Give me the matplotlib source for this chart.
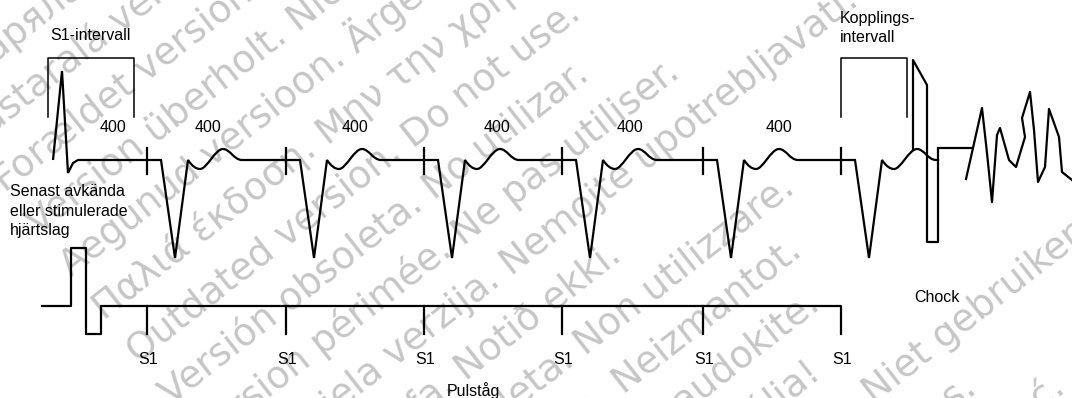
import matplotlib.pyplot as plt
from matplotlib.path import Path
from matplotlib.patches import PathPatch
import numpy as np

W, H = 1072, 398

# S1 pacing marks (px along the strip)
s1_x = [147, 286, 424, 562, 703, 841]
base_y = 160
tick_top, tick_bot = 148, 174

# last sensed beat at the start of the strip
sensed_x = [53, 62, 68, 73, 78]
sensed_y = [160, 71, 173, 163, 160]

# paced beat, offsets from the S1 mark
qrs_dx = [14, 28, 41]
qrs_y = [160, 258, 160]
# T wave as three cubic segments (ctrl1, ctrl2, end)
twave_dx = [45, 49, 53, 60, 68, 76, 83, 87, 95]
twave_y = [166, 169, 169, 169, 149, 149, 149, 160, 160]

# step after the last beat, shock pulse and VF
step_x = [938, 938, 973]
step_y = [160, 148, 148]
shock_x = [913, 913, 927, 927, 938, 938]
shock_y = [149, 60, 85, 242, 242, 160]
vf_x = [966, 982, 987, 992, 997, 1000, 1009, 1016, 1025, 1022, 1030, 1034,
        1038, 1045, 1049, 1059, 1062, 1072]
vf_y = [179, 108, 153, 202, 135, 128, 160, 167, 137, 118, 92, 130,
        182, 167, 109, 137, 172, 180]

# pulse train row
train_x = [42, 71, 71, 86, 86, 101, 101, 841, 841]
train_y = [306, 306, 248, 248, 334, 334, 306, 306, 334]
train_tick = (306, 334)

# brackets
s1_brk_x = [48, 48, 134, 134]
cpl_brk_x = [841, 841, 907, 907]
brk_y = [117, 58, 58, 117]

# labels
interval_lbl = "400"
interval_x = [113, 208, 355, 497, 630, 779]
interval_y = 128
sensed_lbl = ["Senast avkända", "eller stimulerade", "hjärtslag"]
sensed_lbl_y = [192, 211, 230]
cpl_lbl = ["Kopplings-", "intervall"]
cpl_lbl_y = [18, 37]

watermark = [
    "Остаряла версия. Да не се използва.",
    "Zastaralá verze. Nepoužívat.",
    "Forældet version. Må ikke anvendes.",
    "Version überholt. Nicht verwenden.",
    "Aegunud versioon. Ärge kasutage.",
    "Παλιά έκδοση. Μην την χρησιμοποιείτε.",
    "Outdated version. Do not use.",
    "Versión obsoleta. No utilizar.",
    "Version périmée. Ne pas utiliser.",
    "Zastarjela verzija. Nemojte upotrebljavati.",
    "Úrelt útgáfa. Notið ekki.",
    "Versione obsoleta. Non utilizzare.",
    "Novecojusi versija. Neizmantot.",
    "Pasenusi versija. Nenaudokite.",
    "Elavult verzió. Ne használja!",
    "Dit is een verouderde versie. Niet gebruiken.",
    "Utdatert versjon. Skal ikke brukes.",
    "Wersja przeterminowana. Nie używać.",
    "Versão obsoleta. Não utilize.",
]
wm_english = 6

fig = plt.figure(figsize=(W / 100, H / 100), dpi=100)
ax = fig.add_axes([0, 0, 1, 1])
ax.set_xlim(0, W)
ax.set_ylim(H, 0)
ax.axis('off')

# watermark, drawn first
ang = 38.0
d = np.array([np.cos(np.radians(ang)), -np.sin(np.radians(ang))])
n = np.array([np.sin(np.radians(ang)), np.cos(np.radians(ang))])
p0 = -115 * d + 371 * n
for i, line in enumerate(watermark):
    p = p0 + (i - wm_english) * 54 * n
    ax.text(p[0], p[1], line, rotation=ang, rotation_mode='anchor',
            ha='left', va='baseline', fontsize=27, color='#c6c6c6',
            family='DejaVu Sans', zorder=0, clip_on=True)

lw = 1.6
# ECG strip as one path
verts = [(x, y) for x, y in zip(sensed_x, sensed_y)]
codes = [Path.MOVETO] + [Path.LINETO] * (len(sensed_x) - 1)
for t in s1_x:
    for dx, y in zip(qrs_dx, qrs_y):
        verts.append((t + dx, y))
        codes.append(Path.LINETO)
    for dx, y in zip(twave_dx, twave_y):
        verts.append((t + dx, y))
        codes.append(Path.CURVE4)
for x, y in zip(step_x, step_y):
    verts.append((x, y))
    codes.append(Path.LINETO)
ax.add_patch(PathPatch(Path(verts, codes), fill=False, lw=lw, color='black',
                       joinstyle='miter', zorder=2))

ax.plot(shock_x, shock_y, color='black', lw=lw, zorder=2)
ax.plot(vf_x, vf_y, color='black', lw=lw, zorder=2)
for t in s1_x:
    ax.plot([t, t], [tick_top, tick_bot], color='black', lw=lw, zorder=2)

ax.plot(train_x, train_y, color='black', lw=lw, zorder=2)
for t in s1_x[:-1]:
    ax.plot([t, t], train_tick, color='black', lw=lw, zorder=2)

ax.plot(s1_brk_x, brk_y, color='black', lw=1.1, zorder=2)
ax.plot(cpl_brk_x, brk_y, color='black', lw=1.1, zorder=2)

fs = 11.5
font = 'Liberation Sans'
kw = dict(fontsize=fs, family=font, color='black', zorder=3)
ax.text(90, 35, "S1-intervall", ha='center', va='center', **kw)
for x in interval_x:
    ax.text(x, interval_y, interval_lbl, ha='center', va='center', **kw)
for s, y in zip(sensed_lbl, sensed_lbl_y):
    ax.text(10, y, s, ha='left', va='center', **kw)
for s, y in zip(cpl_lbl, cpl_lbl_y):
    ax.text(840, y, s, ha='left', va='center', **kw)
for t in s1_x:
    ax.text(t + 1, 360, "S1", ha='center', va='center', **kw)
ax.text(473, 391, "Pulståg", ha='center', va='center', **kw)
ax.text(937, 297, "Chock", ha='center', va='center', **kw)

fig.savefig('out.png', dpi=100)
